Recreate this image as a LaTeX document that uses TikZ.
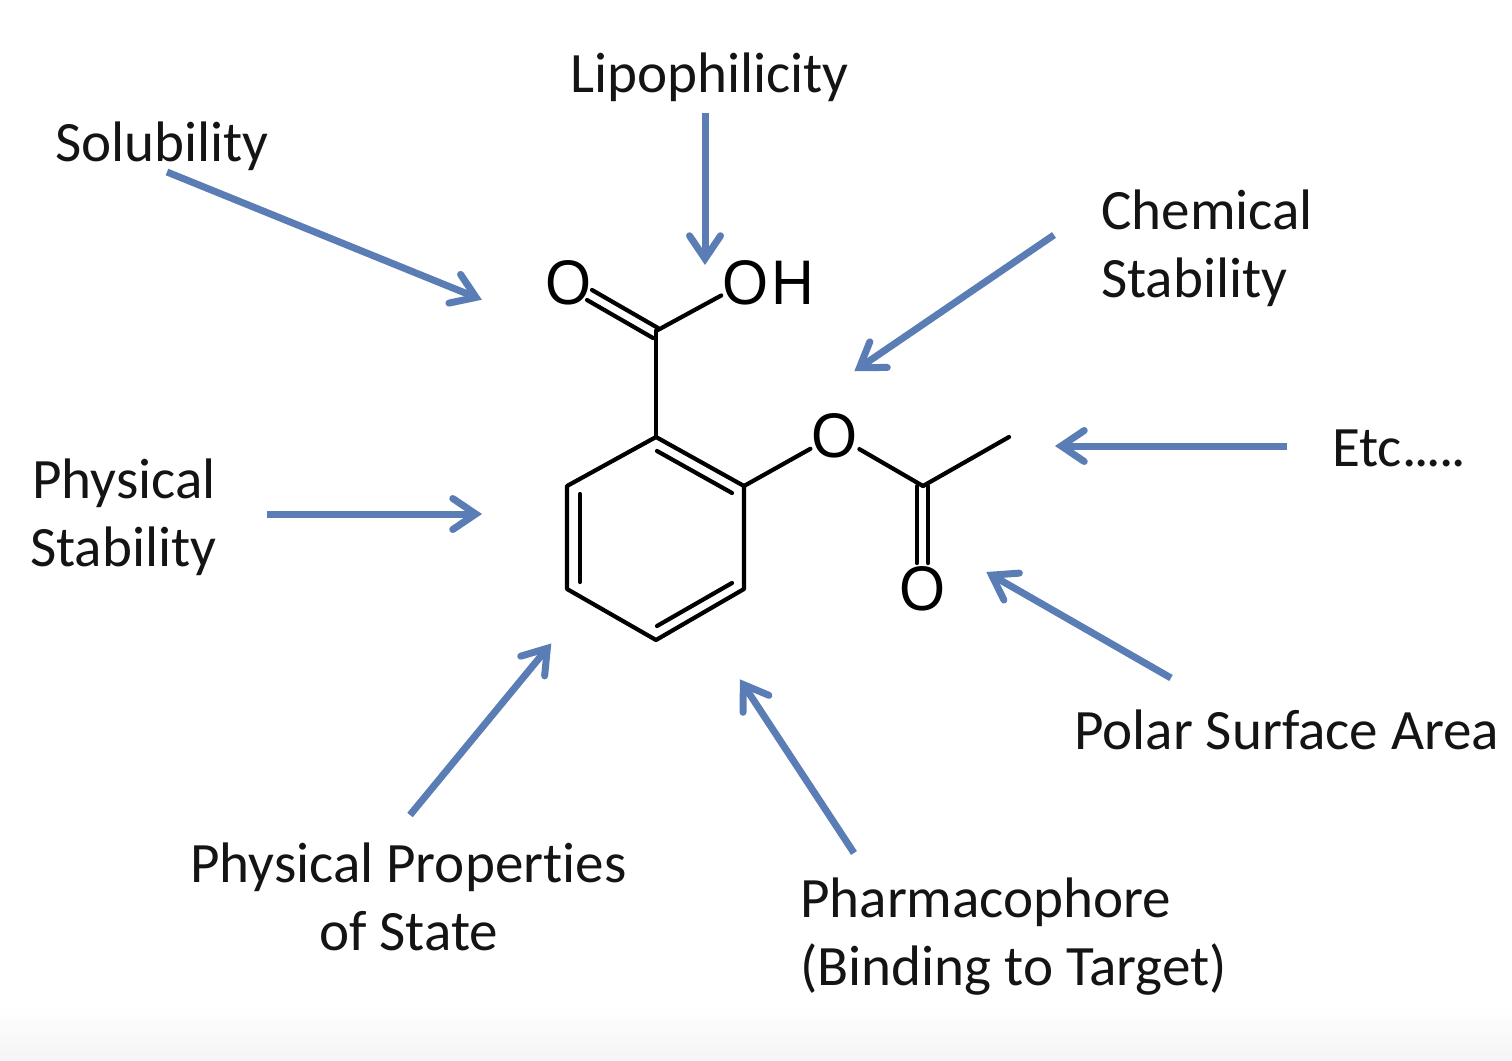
\documentclass[tikz,border=0pt]{standalone}
\usepackage{fontspec}
\usetikzlibrary{arrows.meta}
\setmainfont{Carlito}[Ligatures=NoCommon]
\newfontfamily\chemfont{Liberation Sans}[FakeStretch=0.94]
\definecolor{arrowblue}{HTML}{5A7DB6}
\newcommand{\atomtext}[1]{\makebox[0pt]{\smash{\raisebox{-0.358em}{#1}}}}
\tikzset{
  x=1pt,y=-1pt,
  label text/.style={font=\fontsize{57.1}{68}\selectfont,anchor=base west,inner sep=0pt,text=black!92},
  atom/.style={shape=circle,inner sep=0pt,minimum size=56pt,font=\chemfont\fontsize{63}{70}\selectfont,text=black},
  bond/.style={draw=black,line width=4.2pt,line cap=round,line join=round},
  pointer/.style={draw=arrowblue,line width=7pt,shorten >=-2pt,-{Straight Barb[length=23pt,width=31pt,line cap=round,line join=miter,line width=7pt]}},
}
\begin{document}
\begin{tikzpicture}
\useasboundingbox (0,0) rectangle (1512,1060);
\fill[white] (0,0) rectangle (1512,1060);
\shade[top color=white,bottom color=black!4] (0,1005) rectangle (1512,1060);

% ring and skeleton atoms
\coordinate (r1) at (656,437);
\coordinate (r2) at (744,486);
\coordinate (r3) at (744,589);
\coordinate (r4) at (656,640);
\coordinate (r5) at (567,589);
\coordinate (r6) at (567,486);
\coordinate (cc) at (656,331);
\coordinate (ac) at (923,486);
\coordinate (me) at (1009,437);
\node[atom] (o1) at (569,282) {\atomtext{O}};
\node[atom] (oh) at (746,282) {\atomtext{O}};
\node[atom,minimum size=10pt] (hh) at (793,282) {\atomtext{H}};
\node[atom] (oe) at (835,435) {\atomtext{O}};
\node[atom] (o2) at (923,588) {\atomtext{O}};

% double bond inner lines
\coordinate (d1a) at (592,290); \coordinate (d1b) at (658,328);
\coordinate (d2a) at (587,300); \coordinate (d2b) at (653,338);
\coordinate (i1a) at (657,451); \coordinate (i1b) at (732,493);
\coordinate (i2a) at (580,494); \coordinate (i2b) at (580,582);
\coordinate (i3a) at (732,583); \coordinate (i3b) at (657,626);
\coordinate (d3a) at (917,486); \coordinate (d3b) at (917,563);
\coordinate (d4a) at (928,486); \coordinate (d4b) at (928,563);

\draw[bond] (r1) -- (r2) -- (r3) -- (r4) -- (r5) -- (r6) -- cycle;
\draw[bond] (i1a) -- (i1b);
\draw[bond] (i2a) -- (i2b);
\draw[bond] (i3a) -- (i3b);
\draw[bond] (r1) -- (cc);
\draw[bond] (cc) -- (oh);
\draw[bond] (d1a) -- (d1b);
\draw[bond] (d2a) -- (d2b);
\draw[bond] (r2) -- (oe);
\draw[bond] (oe) -- (ac);
\draw[bond] (ac) -- (me);
\draw[bond] (d3a) -- (d3b);
\draw[bond] (d4a) -- (d4b);

% labels
\node[label text] (sol) at (55,161.5) {Solubility};
\node[label text] (lip) at (570,92.5) {Lipophilicity};
\node[label text] (che) at (1101,229.5) {Chemical};
\node[label text] (sta) at (1101,297.5) {Stability};
\node[label text] (etc) at (1332,466.5) {Etc.\kern-2pt.\kern-2pt.\kern-2pt.\kern-2pt.};
\node[label text] (pol) at (1074,749.5) {Polar Surface Area};
\node[label text] (pha) at (800,917.5) {Pharmacophore};
\node[label text] (bin) at (800,985.5) {(Binding to Target)};
\node[label text] (ppr) at (190,882.5) {Physical Properties};
\node[label text] (ost) at (319,950.5) {of State};
\node[label text] (phy) at (32,498.5) {Physical};
\node[label text] (pst) at (30,566.5) {Stability};

% arrows
\coordinate (a1s) at (167,172); \coordinate (a1e) at (480,299);
\coordinate (a2s) at (705,113); \coordinate (a2e) at (705,263);
\coordinate (a3s) at (1054,235); \coordinate (a3e) at (856,370);
\coordinate (a4s) at (1287,446); \coordinate (a4e) at (1057,446);
\coordinate (a5s) at (1171,678); \coordinate (a5e) at (988,573);
\coordinate (a6s) at (854,853); \coordinate (a6e) at (741,681);
\coordinate (a7s) at (410,815); \coordinate (a7e) at (550,645);
\coordinate (a8s) at (267,514); \coordinate (a8e) at (480,514);
\draw[pointer] (a1s) -- (a1e);
\draw[pointer] (a2s) -- (a2e);
\draw[pointer] (a3s) -- (a3e);
\draw[pointer] (a4s) -- (a4e);
\draw[pointer] (a5s) -- (a5e);
\draw[pointer] (a6s) -- (a6e);
\draw[pointer] (a7s) -- (a7e);
\draw[pointer] (a8s) -- (a8e);
\end{tikzpicture}
\end{document}
